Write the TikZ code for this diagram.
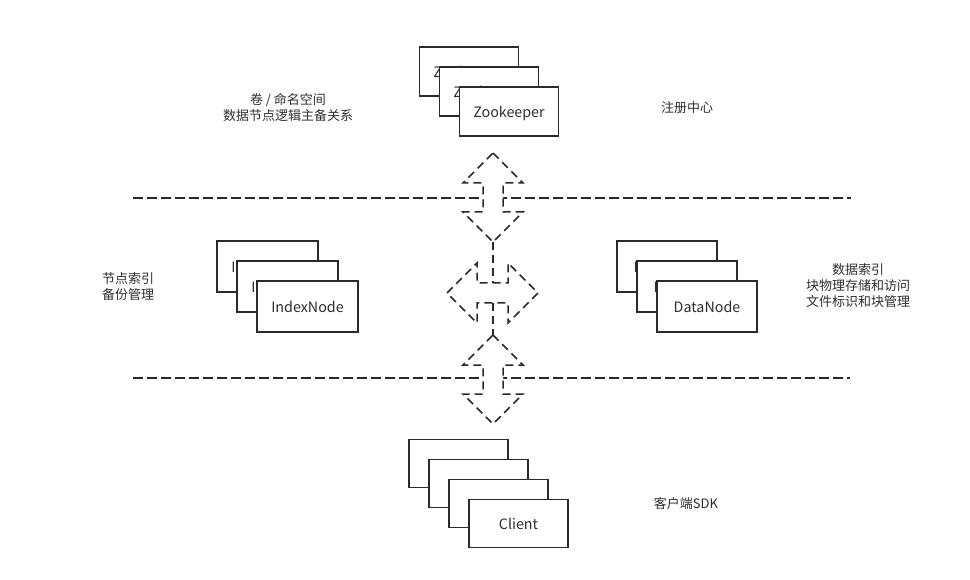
\documentclass[tikz,border=0pt]{standalone}
\usepackage{fontspec}
\setmainfont{Noto Sans CJK SC}
\definecolor{ink}{HTML}{2A2A2A}
\definecolor{txt}{HTML}{2E2E2E}
\begin{document}
\begin{tikzpicture}[x=1pt,y=-1pt,
  stackbox/.style={draw=ink,line width=1.8pt,fill=white,minimum width=99pt,minimum height=49pt,inner sep=0pt,text=txt,text height=12.6pt,text depth=0pt,font=\fontsize{14.3}{16}\selectfont},
  note/.style={text=txt,align=center,inner sep=0pt,font=\fontsize{13}{16}\selectfont},
  sepline/.style={draw=ink,line width=1.6pt,dash pattern=on 10pt off 4pt},
  dasharrow/.style={draw=ink,line width=1.5pt,fill=white,dash pattern=on 8pt off 5pt,line join=miter},
  link/.style={draw=ink,line width=1.5pt,dash pattern=on 8pt off 5pt}]
\useasboundingbox (0,0) rectangle (970,580);
\fill[white] (0,0) rectangle (970,580);

% separator lines
\coordinate (l1a) at (133,198); \coordinate (l1b) at (851,198);
\coordinate (l2a) at (133,378); \coordinate (l2b) at (850,378);
\draw[sepline] (l1a) -- (l1b);
\draw[sepline] (l2a) -- (l2b);

% Zookeeper stack
\node[stackbox] (zk1) at (469,71.5) {Zookeeper};
\node[stackbox] (zk2) at (489,91.5) {Zookeeper};
\node[stackbox] (zk3) at (509,111.5) {Zookeeper};

% IndexNode stack
\node[stackbox,minimum width=101pt,minimum height=51pt] (in1) at (267.5,266.5) {IndexNode};
\node[stackbox,minimum width=101pt,minimum height=51pt] (in2) at (287.5,286.5) {IndexNode};
\node[stackbox,minimum width=101pt,minimum height=51pt] (in3) at (307.5,306.5) {IndexNode};

% DataNode stack
\node[stackbox,minimum width=100pt,minimum height=51pt] (dn1) at (667,266.5) {DataNode};
\node[stackbox,minimum width=100pt,minimum height=51pt] (dn2) at (687,286.5) {DataNode};
\node[stackbox,minimum width=100pt,minimum height=51pt] (dn3) at (707,306.5) {DataNode};

% Client stack
\node[stackbox,minimum height=48pt] (cl1) at (458.5,463.5) {};
\node[stackbox,minimum height=48pt] (cl2) at (478.5,483.5) {};
\node[stackbox,minimum height=48pt] (cl3) at (498.5,503.5) {};
\node[stackbox,minimum height=48pt] (cl4) at (518.5,523.5) {Client};

% connectors between arrows
\coordinate (a1s) at (493,242);
\coordinate (a2n) at (493,283);
\coordinate (a2s) at (493,303);
\coordinate (a3n) at (493,335);
\draw[link] (a1s) -- (a2n);
\draw[link] (a2s) -- (a3n);

% top vertical double arrow
\draw[dasharrow] (493,153) -- (523,183) -- (503,183) -- (503,212) -- (523,212) -- (493,242)
  -- (463,212) -- (483,212) -- (483,183) -- (463,183) -- cycle;
% middle horizontal double arrow
\draw[dasharrow] (447,293) -- (477,263) -- (477,283) -- (508,283) -- (508,263) -- (538,293)
  -- (508,323) -- (508,303) -- (477,303) -- (477,323) -- cycle;
% bottom vertical double arrow
\draw[dasharrow] (493,335) -- (523,365) -- (503,365) -- (503,394) -- (523,394) -- (493,424)
  -- (463,394) -- (483,394) -- (483,365) -- (463,365) -- cycle;

% annotations
\node[note] (t1) at (288,108) {卷 / 命名空间\\数据节点逻辑主备关系};
\node[note] (t2) at (687,108) {注册中心};
\node[note] (t3) at (128,287) {节点索引\\备份管理};
\node[note] (t4) at (858,286) {数据索引\\块物理存储和访问\\文件标识和块管理};
\node[note] (t5) at (686,504) {客户端SDK};
\end{tikzpicture}
\end{document}
